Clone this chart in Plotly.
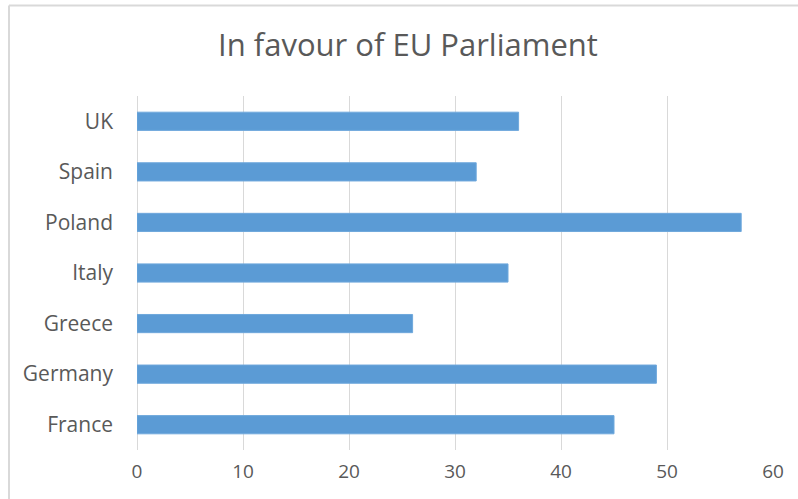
import plotly.graph_objects as go

countries = ["France", "Germany", "Greece", "Italy", "Poland", "Spain", "UK"]
values = [45, 49, 26, 35, 57, 32, 36]
x_ticks = [0, 10, 20, 30, 40, 50, 60]

W, H = 798, 499
ml, mr, mt, mb = 137, 25, 96, 49
pw, ph = W - ml - mr, H - mt - mb

fig = go.Figure(go.Bar(
    x=values, y=countries, orientation="h",
    marker=dict(color="#5b9bd5", line=dict(color="#6fa8dc", width=1)),
    width=0.36,
))

def px_x(p):
    return (p - ml) / pw

def px_y(p):
    return 1 - (p - mt) / ph

fig.update_layout(
    width=W, height=H,
    margin=dict(l=ml, r=mr, t=mt, b=mb),
    paper_bgcolor="white", plot_bgcolor="white",
    title=dict(text="In favour of EU Parliament", x=408 / W, xanchor="center",
               y=1 - 45 / H, yanchor="middle",
               font=dict(family="Open Sans", size=31, color="#595959")),
    font=dict(family="Open Sans", color="#595959"),
    xaxis=dict(range=[0, 60], tickvals=x_ticks, showgrid=True, gridcolor="#d9d9d9",
               gridwidth=1, zeroline=True, zerolinecolor="#d9d9d9", zerolinewidth=1,
               tickfont=dict(size=19, color="#595959"), ticks="", showline=False,
               ticklabelstandoff=8),
    yaxis=dict(tickfont=dict(size=21, color="#595959"), ticks="", showline=False,
               categoryorder="array", categoryarray=countries, ticklabelstandoff=23,
               range=[-0.5, 6.5]),
    showlegend=False,
    shapes=[
        dict(type="line", xref="paper", yref="paper", x0=px_x(9), x1=px_x(800),
             y0=px_y(5.5), y1=px_y(5.5), line=dict(color="#d9d9d9", width=2)),
        dict(type="line", xref="paper", yref="paper", x0=px_x(9), x1=px_x(9),
             y0=px_y(5.5), y1=px_y(505), line=dict(color="#d9d9d9", width=2)),
    ],
)

fig.write_html("out.html")
